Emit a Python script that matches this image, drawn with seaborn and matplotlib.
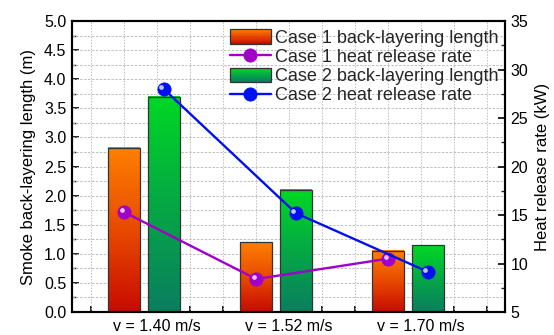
import numpy as np
import pandas as pd
import seaborn as sns
import matplotlib
matplotlib.use("Agg")
import matplotlib.pyplot as plt
from matplotlib.colors import LinearSegmentedColormap
from matplotlib.lines import Line2D
from matplotlib.patches import Rectangle, Patch
from matplotlib.legend_handler import HandlerBase
from matplotlib.ticker import MultipleLocator, FormatStrFormatter
from matplotlib.transforms import offset_copy

# ---- data ----
velocities = ["v = 1.40 m/s", "v = 1.52 m/s", "v = 1.70 m/s"]
cases = ["Case 1", "Case 2"]
backlayer_case1 = [2.82, 1.20, 1.05]   # m
backlayer_case2 = [3.70, 2.10, 1.15]   # m
hrr_case1 = [15.3, 8.4, 10.5]          # kW
hrr_case2 = [28.0, 15.2, 9.15]         # kW

df = pd.DataFrame({
    "velocity": velocities * 2,
    "case": [cases[0]] * 3 + [cases[1]] * 3,
    "length": backlayer_case1 + backlayer_case2,
    "hrr": hrr_case1 + hrr_case2,
})

# ---- style ----
sns.set_theme(style="white")
plt.rcParams["font.family"] = ["Liberation Sans", "DejaVu Sans"]
plt.rcParams["axes.linewidth"] = 1.5

orange_cmap = LinearSegmentedColormap.from_list("orng", ["#C80A00", "#E84A00", "#FF8000"])
green_cmap = LinearSegmentedColormap.from_list("grn", ["#0A7E60", "#05A845", "#00D824"])
purple = "#A000C8"
blue = "#0010F0"
grid_color = "#BEBEBE"

fig = plt.figure(figsize=(5.54, 3.35), dpi=100)
ax = fig.add_axes([0.130, 0.0687, 0.7816, 0.8683])

# ---- bars: smoke back-layering length ----
sns.barplot(data=df, x="velocity", y="length", hue="case", hue_order=cases,
            palette=["#FF8000", "#00D824"], width=0.6, gap=0.2, dodge=True,
            errorbar=None, edgecolor="#333333", linewidth=0.9, legend=False,
            ax=ax, zorder=3)

grad = np.linspace(0, 1, 256).reshape(-1, 1)
bars = list(ax.patches)
for p in bars:
    x0, w, h = p.get_x(), p.get_width(), p.get_height()
    if h <= 0:
        continue
    fc = p.get_facecolor()
    cmap = orange_cmap if fc[0] > 0.5 else green_cmap
    ax.imshow(grad, extent=(x0, x0 + w, 0, h), origin="lower", cmap=cmap,
              aspect="auto", interpolation="bilinear", zorder=2.5)
    p.set_facecolor("none")

ax.set_ylim(0, 5)
ax.yaxis.set_major_locator(MultipleLocator(0.5))
ax.yaxis.set_minor_locator(MultipleLocator(0.25))
ax.yaxis.set_major_formatter(FormatStrFormatter("%.1f"))
ax.set_ylabel("Smoke back-layering length (m)", fontsize=12, labelpad=6)
ax.set_xlabel("")

# ---- heat release rate on right axis ----
ax2 = ax.twinx()
sns.pointplot(data=df, x="velocity", y="hrr", hue="case", hue_order=cases,
              palette=[purple, blue], dodge=0.3, errorbar=None, markers="o",
              markersize=9.5, linewidth=1.7, legend=False, ax=ax2)
for ln in list(ax2.lines):
    ln.set_zorder(4)
    ln.set_markeredgewidth(0.6)
    c = ln.get_color()
    xd, yd = ln.get_xdata(), ln.get_ydata()
    hl = offset_copy(ax2.transData, fig=fig, x=-1.7, y=1.5, units="points")
    ax2.plot(xd, yd, linestyle="none", marker="o", markersize=3.4,
             markerfacecolor="#F2DCFF" if c == purple else "#D4DCFF",
             markeredgecolor="none", alpha=0.9, transform=hl, zorder=5)

ax2.set_ylim(5, 35)
ax2.yaxis.set_major_locator(MultipleLocator(5))
ax2.yaxis.set_minor_locator(MultipleLocator(2.5))
ax2.set_ylabel("Heat release rate (kW)", fontsize=12, labelpad=5)
ax2.set_xlabel("")

# x ticks at every grid column; labels only under each group
xt = np.arange(-0.4, 2.74, 0.25)
labels = []
for t in xt:
    k = int(round(t - 0.1))
    labels.append(velocities[k] if abs(t - (k + 0.1)) < 1e-6 else "")
ax.set_xticks(xt)
ax.set_xticklabels(labels)
ax.set_xlim(-0.545, 2.735)
ax2.set_xlim(-0.545, 2.735)

# ---- grid ----
ax.grid(False)
ax2.grid(False)
for t in xt:
    ax.axvline(t, color=grid_color, linestyle=(0, (1.5, 1.5)), linewidth=0.7, zorder=1)
for yv in np.arange(0.25, 5.0, 0.25):
    ax.axhline(yv, color=grid_color, linestyle=(0, (2.5, 1.5)), linewidth=0.7, zorder=1)

# ---- ticks & spines ----
for a in (ax, ax2):
    for s in a.spines.values():
        s.set_color("black")
        s.set_linewidth(1.5)
ax.tick_params(axis="y", which="major", direction="in", length=5, width=1.2,
               labelsize=11.5, left=True, pad=4, colors="black")
ax.tick_params(axis="y", which="minor", direction="in", length=3, width=1.0, left=True)
ax.tick_params(axis="x", which="major", direction="in", length=4, width=1.2,
               labelsize=11.5, bottom=True, pad=5, colors="black")
ax2.tick_params(axis="y", which="major", direction="in", length=5, width=1.2,
                labelsize=11.5, right=True, pad=4, colors="black")
ax2.tick_params(axis="y", which="minor", direction="in", length=3, width=1.0, right=True)
ax.yaxis.label.set_color("black")
ax2.yaxis.label.set_color("black")


# ---- legend ----
class GradientHandler(HandlerBase):
    def __init__(self, cmap):
        super().__init__()
        self.cmap = cmap

    def create_artists(self, legend, orig_handle, xdescent, ydescent,
                       width, height, fontsize, trans):
        n = 14
        arts = []
        for i in range(n):
            arts.append(Rectangle((-xdescent, -ydescent + i * height / n),
                                  width, height / n * 1.05,
                                  facecolor=self.cmap(i / (n - 1)),
                                  edgecolor="none", transform=trans))
        arts.append(Rectangle((-xdescent, -ydescent), width, height,
                              facecolor="none", edgecolor="#333333",
                              linewidth=0.9, transform=trans))
        return arts


h_bar1 = Patch(label="Case 1 back-layering length")
h_bar2 = Patch(label="Case 2 back-layering length")
h_ln1 = Line2D([], [], color=purple, marker="o", markersize=9.5, linewidth=1.7,
               markeredgewidth=0.6, label="Case 1 heat release rate")
h_ln2 = Line2D([], [], color=blue, marker="o", markersize=9.5, linewidth=1.7,
               markeredgewidth=0.6, label="Case 2 heat release rate")
leg = ax2.legend(handles=[h_bar1, h_ln1, h_bar2, h_ln2],
                 handler_map={h_bar1: GradientHandler(orange_cmap),
                              h_bar2: GradientHandler(green_cmap)},
                 loc="upper right", bbox_to_anchor=(0.985, 0.972),
                 frameon=False, fontsize=13, handlelength=2.25,
                 handleheight=0.85, handletextpad=0.25, labelspacing=0.1,
                 borderaxespad=0.0, borderpad=0.0)
leg.set_zorder(6)

fig.savefig("out.png", dpi=100)
